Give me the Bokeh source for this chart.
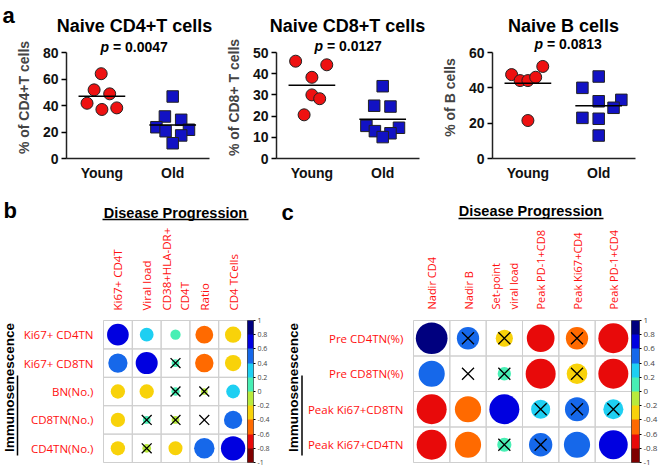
import numpy as np
from math import pi
from bokeh.plotting import figure
from bokeh.layouts import row, column
from bokeh.models import (Range1d, FactorRange, FixedTicker, Label, ColorBar,
                          LinearColorMapper, CustomJSTickFormatter, ColumnDataSource)
from bokeh.core.properties import value
from bokeh.transform import linear_cmap
from bokeh.embed import file_html
from bokeh.resources import INLINE

# ---------------- data: panel a ----------------
groups = ["Young", "Old"]

cd4_young = [64.0, 51.8, 48.8, 41.7, 37.0, 38.2]
cd4_young_jit = [-0.01, -0.11, 0.11, -0.21, 0.0, 0.21]
cd4_old = [46.8, 31.7, 29.2, 23.6, 20.6, 21.7, 17.4, 11.5]
cd4_old_jit = [0.0, -0.11, 0.12, -0.23, -0.10, 0.23, 0.12, 0.0]

cd8_young = [45.9, 44.2, 38.3, 30.0, 28.2, 20.6]
cd8_young_jit = [-0.23, 0.21, 0.0, 0.0, 0.11, -0.11]
cd8_old = [34.1, 24.9, 24.5, 15.4, 12.9, 14.5, 11.9, 10.1]
cd8_old_jit = [0.0, -0.12, 0.11, -0.23, -0.11, 0.23, 0.11, 0.0]

bc_young = [47.5, 44.1, 44.1, 46.0, 52.1, 21.5]
bc_young_jit = [-0.23, -0.11, 0.0, 0.11, 0.21, 0.0]
bc_old = [46.4, 40.0, 32.4, 33.2, 28.7, 23.0, 22.5, 13.0]
bc_old_jit = [0.0, -0.23, 0.0, 0.32, 0.21, -0.23, 0.0, 0.0]

titles_a = ["Naive CD4+T cells", "Naive CD8+T cells", "Naive B cells"]
pvalues_a = ["0.0047", "0.0127", "0.0813"]
ylabels_a = ["% of CD4+T cells", "% of CD8+ T cells", "% of B cells"]
yticks_cd4 = [0, 20, 40, 60, 80]
yticks_cd8 = [0, 10, 20, 30, 40, 50]
yticks_bc = [0, 20, 40, 60]

# ---------------- data: panel b ----------------
b_cols = ["Ki67+ CD4T", "Viral load", "CD38+HLA-DR+\nCD4T", "Ratio", "CD4 TCells"]
b_rows = ["Ki67+ CD4TN", "Ki67+ CD8TN", "BN(No.)", "CD8TN(No.)", "CD4TN(No.)"]
b_corr = [
    [0.62, 0.25, 0.14, -0.42, -0.35],
    [0.49, 0.64, 0.08, -0.45, -0.35],
    [-0.27, -0.27, 0.09, -0.06, 0.25],
    [-0.27, 0.08, -0.08, 0.0, 0.44],
    [-0.27, -0.10, -0.26, 0.55, 0.78],
]
b_cross = [
    [0, 0, 0, 0, 0],
    [0, 0, 1, 0, 0],
    [0, 0, 1, 1, 0],
    [0, 1, 1, 1, 0],
    [0, 1, 0, 0, 0],
]

# ---------------- data: panel c ----------------
c_cols = ["Nadir CD4", "Nadir B", "Set-point\nviral load", "Peak PD-1+CD8",
          "Peak Ki67+CD4", "Peak PD-1+CD4"]
c_rows = ["Pre CD4TN(%)", "Pre CD8TN(%)", "Peak Ki67+CD8TN", "Peak Ki67+CD4TN"]
c_corr = [
    [0.85, 0.42, -0.25, -0.65, -0.42, -0.76],
    [0.58, 0.0, 0.15, -0.76, -0.36, -0.76],
    [-0.76, -0.58, 0.76, 0.31, 0.49, 0.34],
    [-0.76, -0.58, 0.17, 0.46, 0.58, 0.70],
]
c_cross = [
    [0, 1, 1, 0, 1, 0],
    [0, 1, 1, 0, 1, 0],
    [0, 0, 0, 1, 1, 1],
    [0, 0, 1, 1, 0, 0],
]

corr_ticks = [-1, -0.8, -0.6, -0.4, -0.2, 0, 0.2, 0.4, 0.6, 0.8, 1]
corr_palette = ["#7F0000", "#E80A0A", "#FF6A00", "#F8D20A", "#B8EA3C",
                "#48EFB4", "#1ECFF2", "#1668EA", "#0000E0", "#00007F"]

header_text = "Disease Progression"
side_text = "Immunosenescence"

# ---------------- styling / geometry ----------------
FA = "Liberation Sans"
FB = "Open Sans"
FRAME_W = 143
STRIP1_H = 36
A_FRAME_H, A_AXIS_H, A_BOTTOM = 122, 106, 26
A_H = A_FRAME_H + A_BOTTOM                     # 148
STRIP2_H = 40
BOT_H = 467 - STRIP1_H - A_H - STRIP2_H        # 243


def lab(p, x, y, text, size, dx=0, dy=0, align="center", base="middle",
        style="bold", font=FA, color="black"):
    p.add_layout(Label(x=x, y=y, x_offset=dx, y_offset=dy, text=text,
                       text_font=font, text_font_size=f"{size}px",
                       text_font_style=style, text_color=color,
                       text_align=align, text_baseline=base))


def blank(width, height):
    """A figure whose frame is the whole canvas, in pixel-like units."""
    p = figure(width=width, height=height, title=None,
               x_range=Range1d(0, width), y_range=Range1d(0, height),
               x_axis_type=None, y_axis_type=None,
               min_border_left=0, min_border_right=0, min_border_top=0, min_border_bottom=0,
               output_backend="svg", toolbar_location=None)
    p.outline_line_color = None
    p.grid.visible = False
    return p


def btext(p, x, ytop, text, size, align="center", base="middle", angle=0.0):
    """Bold text in a blank figure, y given from the top edge."""
    h = p.height
    p.text(x=[x], y=[h - ytop], text=[text], angle=angle,
           text_font=value(FA), text_font_size=f"{size}px", text_font_style="bold",
           text_color="black", text_align=align, text_baseline=base)


def bline(p, xs0, ys0, xs1, ys1):
    h = p.height
    p.segment(x0=xs0, x1=xs1, y0=[h - y for y in ys0], y1=[h - y for y in ys1],
              line_color="black", line_width=1.5)


def scatter_panel(pval, ylabel, yticks, young, young_jit, old, old_jit,
                  left, right, p_dx, p_dy):
    x0, x1 = 0.5, 2.52
    ymax = yticks[-1]
    p = figure(width=left + FRAME_W + right, height=A_H, title=None,
               x_range=Range1d(x0, x1),
               y_range=Range1d(yticks[0], ymax * A_FRAME_H / A_AXIS_H),
               min_border_left=left, min_border_right=right,
               min_border_top=0, min_border_bottom=A_BOTTOM,
               output_backend="svg", toolbar_location=None)
    p.outline_line_color = None
    p.grid.visible = False
    for ax in (p.xaxis, p.yaxis):
        ax.axis_line_width = 1.5
        ax.axis_line_color = "#222222"
        ax.major_label_text_font = FA
        ax.major_label_text_font_size = "14px"
        ax.major_label_text_font_style = "bold"
        ax.major_label_text_color = "#111111"
        ax.minor_tick_out = 0
        ax.minor_tick_in = 0
    p.yaxis.bounds = (yticks[0], ymax)
    p.yaxis.ticker = FixedTicker(ticks=yticks)
    p.yaxis.major_tick_out = 5
    p.yaxis.major_tick_in = 0
    p.yaxis.major_tick_line_width = 1.5
    p.yaxis.major_label_standoff = 3
    p.yaxis.axis_label = ylabel
    p.yaxis.axis_label_text_font = FA
    p.yaxis.axis_label_text_font_size = "14px"
    p.yaxis.axis_label_text_font_style = "bold"
    p.yaxis.axis_label_standoff = 8
    p.xaxis.ticker = FixedTicker(ticks=[1, 2])
    p.xaxis.major_label_overrides = {1: groups[0], 2: groups[1]}
    p.xaxis.major_tick_out = 0
    p.xaxis.major_tick_in = 0
    p.xaxis.major_label_standoff = 6

    p.scatter(x=[1 + j for j in young_jit], y=young, marker="circle", size=12,
              fill_color="#EE1111", line_color="#222222", line_width=1)
    p.scatter(x=[2 + j for j in old_jit], y=old, marker="square", size=11.5,
              fill_color="#1212C4", line_color="#222222", line_width=1)
    hw = 0.33
    means = [float(np.mean(young)), float(np.mean(old))]
    p.segment(x0=[1 - hw, 2 - hw], x1=[1 + hw, 2 + hw], y0=means, y1=means,
              line_color="black", line_width=1.5)

    xc = (x0 + x1) / 2
    lab(p, xc, ymax, "p", 14, dx=p_dx - 25, dy=p_dy, align="right", style="bold italic")
    lab(p, xc, ymax, "= " + pval, 14, dx=p_dx - 21, dy=p_dy, align="left")
    return p


def corr_panel(cols, rows, corr, cross, frame_w, frame_h, left, right, top, bottom,
               row_px, col_px, col_standoff, cb_w, cb_px, cross_size):
    nc, nr = len(cols), len(rows)
    cw, ch = frame_w / nc, frame_h / nr
    p = figure(width=left + frame_w + right, height=top + frame_h + bottom, title=None,
               x_range=FactorRange(*cols), y_range=FactorRange(*rows[::-1]),
               x_axis_location="above",
               min_border_left=left, min_border_right=right,
               min_border_top=top, min_border_bottom=bottom,
               output_backend="svg", toolbar_location=None)
    p.outline_line_color = "#CFCFCF"
    p.grid.grid_line_color = None
    for ax in (p.xaxis, p.yaxis):
        ax.axis_line_color = None
        ax.major_tick_line_color = None
        ax.minor_tick_line_color = None
        ax.major_label_text_color = "#FF1010"
        ax.major_label_text_font = FB
        ax.major_label_standoff = 4
    p.xaxis.major_label_standoff = col_standoff
    p.xaxis.major_label_text_font_size = f"{col_px}px"
    p.yaxis.major_label_text_font_size = f"{row_px}px"
    p.xaxis.major_label_orientation = pi / 2

    xs = [c for r in rows for c in cols]
    ys = [r for r in rows for c in cols]
    vals = [v for rr in corr for v in rr]
    crs = [k for rr in cross for k in rr]
    dmin = min(cw, ch)
    sizes = [float(np.sqrt(abs(v))) * 0.93 * dmin for v in vals]
    src = ColumnDataSource(dict(x=xs, y=ys, r=vals, size=sizes))
    p.rect(x=xs, y=ys, width=1, height=1, fill_color=None,
           line_color="#CFCFCF", line_width=1)
    p.scatter(x="x", y="y", size="size", marker="circle", source=src,
              fill_color=linear_cmap("r", corr_palette, -1, 1), line_color=None)
    cx = [x for x, k in zip(xs, crs) if k]
    cy = [y for y, k in zip(ys, crs) if k]
    p.scatter(x=cx, y=cy, marker="x", size=cross_size, line_color="black",
              line_width=1.3)

    mapper = LinearColorMapper(palette=corr_palette, low=-1, high=1)
    cb = ColorBar(color_mapper=mapper, ticker=FixedTicker(ticks=corr_ticks),
                  formatter=CustomJSTickFormatter(code="return String(Math.round(tick*10)/10);"),
                  width=cb_w, padding=0, margin=0, label_standoff=2,
                  major_label_text_font=FB, major_label_text_font_size=f"{cb_px}px",
                  major_tick_out=2, major_tick_in=0, major_tick_line_color="black",
                  bar_line_color="black", bar_line_width=0.5,
                  border_line_color=None, background_fill_color=None)
    p.add_layout(cb, "right")
    return p


def side_panel(width, text_x, ul_x, text_bottom, ul_top, ul_bottom):
    p = blank(width, BOT_H)
    btext(p, text_x, text_bottom, side_text, 13.5, align="left", base="middle", angle=pi / 2)
    bline(p, [ul_x], [ul_top], [ul_x], [ul_bottom])
    return p


# ---- row 1: letter a and titles ----
strip1 = blank(660, STRIP1_H)
btext(strip1, 2, 15, "a", 22, align="left", base="alphabetic")
for xc, t in zip([134, 347, 563], titles_a):
    btext(strip1, xc, 25, t, 18)

# ---- row 2: panel a scatter plots ----
a1 = scatter_panel(pvalues_a[0], ylabels_a[0], yticks_cd4,
                   cd4_young, cd4_young_jit, cd4_old, cd4_old_jit, 66, 11, -4, 6)
a2 = scatter_panel(pvalues_a[1], ylabels_a[1], yticks_cd8,
                   cd8_young, cd8_young_jit, cd8_old, cd8_old_jit, 56, 11, 0, 7)
a3 = scatter_panel(pvalues_a[2], ylabels_a[2], yticks_bc,
                   bc_young, bc_young_jit, bc_old, bc_old_jit, 62, 25, 4, 9)

# ---- row 3: letters b/c and headers ----
strip2 = blank(660, STRIP2_H)
btext(strip2, 3, 26, "b", 22, align="left", base="alphabetic")
btext(strip2, 281, 28, "c", 22, align="left", base="alphabetic")
btext(strip2, 175, 28, header_text, 14.5)
btext(strip2, 530, 26, header_text, 14.5)
bline(strip2, [102, 458], [35, 34], [248, 603], [35, 34])

# ---- row 4: panels b and c ----
fb_side = side_panel(20, 9, 17, 225, 94, 231)
pb = corr_panel(b_cols, b_rows, b_corr, b_cross, 152, 148, 76, 24, 90, 5,
                11.5, 11.5, 4, 6, 7, 14)
fc_side = side_panel(32, 21, 29.5, 225, 94, 231)
pc = corr_panel(c_cols, c_rows, c_corr, c_cross, 225, 148, 102, 29, 91, 4,
                11.5, 11, 5, 8, 8, 17)

layout = column(strip1, row(a1, a2, a3), strip2, row(fb_side, pb, fc_side, pc))
open("out.html", "w").write(file_html(layout, INLINE))
